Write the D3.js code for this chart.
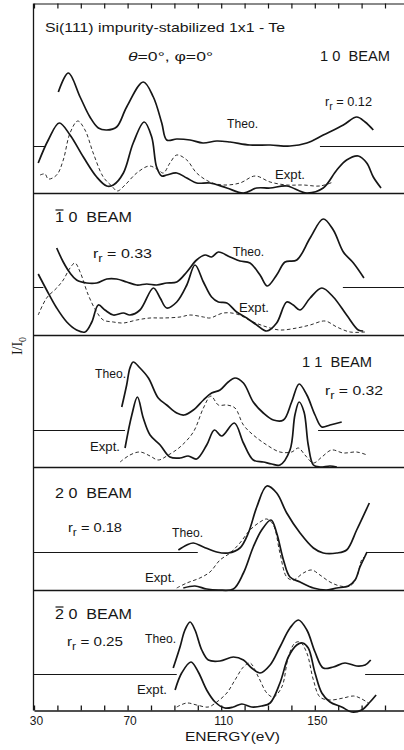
<!DOCTYPE html>
<html>
<head>
<meta charset="utf-8">
<script src="https://cdn.jsdelivr.net/npm/d3@7"></script>
<style>
  body { margin: 0; background: #fff; }
  svg { display: block; }
</style>
</head>
<body>
<div id="chart"></div>
<script>
/* LEED I-V curves, Si(111) 1x1-Te : theory (solid, upper), experiment (solid + dashed, lower) */

// energies (eV) and intensity (arb. units above each baseline)
const tickLabels = [30, 70, 110, 150]
const beamNames = ["1 0", "1 0", "1 1", "2 0", "2 0"]
const beamBar = [false, true, false, false, true]   // overbar on first index
const rFactors = ["0.12", "0.33", "0.32", "0.18", "0.25"]

// 1 0 beam
const theo10 = [[40.4,5.4],[44.7,7.3],[49.7,4.9],[53.9,2.9],[57.5,1.8],[61.1,1.6],[65.3,1.9],[69.6,3.9],[76.7,6.4],[81,4.9],[84.6,2.3],[86.7,0.6],[91,0.7],[96.7,0.6],[102.2,0.3],[108.1,0.5],[113.8,0.4],[122.3,0.1],[130.9,0.1],[139.4,0],[146.6,0.3],[153.6,1.1],[162.2,2.1],[167.9,2.9],[171.5,2.4],[175,1.6]]
const expt10 = [[31.8,3.0],[36.1,5.3],[40.8,7.0],[45.4,5.8],[51.1,3.6],[56.8,1.6],[61.1,0.7],[63.9,0.8],[68.2,2.0],[72.4,5.0],[77.1,7.1],[80.3,5.6],[82.4,2.6],[84.6,1.7],[86.7,1.8],[91,2.0],[95.3,1.5],[99.5,1.0],[105.2,1.0],[112.4,0.5],[119.5,0.0],[125.2,0.5],[130.9,0.5],[138,0.7],[146.6,0.0],[153.6,0.5],[159.4,2.3],[163.6,3.3],[168.6,3.7],[172.2,3.0],[175,1.6],[178.3,0.5]]
const dash10 = [[32.6,1.8],[34.7,1.9],[36.1,1.4],[39.7,1.8],[42.5,3.3],[45.4,6.0],[48.7,7.2],[51.8,6.3],[55.3,4.0],[59.6,1.6],[63.2,0.7],[65.6,0.2],[68.9,0.8],[73.9,2.0],[79.3,2.7],[83.1,2.3],[85.3,2.0],[88.1,3.0],[91,3.8],[95.3,3.3],[99.5,2.0],[105.2,1.1],[110.9,0.8],[118,1.0],[124.5,1.7],[130.9,1.1],[138,0.8],[145.1,0.8],[152.2,0.7],[157.9,1.1]]

// 1bar 0 beam
const theo1b0 = [[39.7,3.9],[42.5,2.5],[45.4,1.4],[48.2,0.7],[52.5,0.4],[56.8,0.4],[61.1,0.8],[65.3,0.8],[69.6,0.5],[73.9,0.2],[78.2,0.3],[82.4,0.2],[86.7,0.4],[91,0.5],[95.3,1.5],[99.5,2.7],[103.1,3.2],[105.9,3.0],[108.8,3.5],[113.8,3.0],[118,2.6],[122.3,2.4],[126.6,1.2],[129.7,0.1],[133.7,1.2],[137.3,2.5],[142.3,2.7],[148,4.9],[153.6,6.8],[157.9,5.7],[162.2,3.5],[166.5,2.4],[171,0.9]]
const expt1b0 = [[31.8,6.1],[35.4,4.5],[39.7,2.7],[44,1.3],[48.2,0.5],[51.8,0.3],[54.7,1.3],[57.5,3.0],[60.3,2.5],[63.9,2.0],[68.2,2.2],[71,2.0],[75.3,2.5],[81,4.7],[83.9,3.7],[86.7,2.7],[91,3.3],[95.3,5.0],[98.8,7.0],[102.4,5.3],[105.9,3.8],[108.8,3.3],[112.4,3.2],[116.6,2.3],[120.9,1.7],[125.2,1.0],[129.5,0.4],[133.7,1.2],[138,3.3],[140.8,3.0],[143.7,2.5],[148,3.7],[153,4.7],[157.9,3.8],[163.6,2.0],[168.6,0.5],[170.7,0.4]]
const dash1b0 = [[31.8,2.0],[35.4,3.7],[39.7,4.7],[42.5,5.5],[45.4,6.7],[47.5,7.2],[49.7,6.3],[53.2,4.0],[56.8,2.3],[59.6,1.5],[63.9,1.3],[68.2,1.2],[73.9,1.5],[79.6,1.7],[85.3,1.7],[92.4,1.8],[96.7,2.0],[102.4,1.8],[105.2,1.7],[110.9,2.2],[116.6,2.1],[123.7,1.3],[129.5,0.8],[135.1,0.5],[142.3,0.7],[148,1.0],[154.4,1.4],[159.4,0.8],[165.1,0.3],[171.5,0.3]]

// 1 1 beam
const theo11 = [[67.5,2.3],[69.6,4.5],[71,6.2],[72.4,6.8],[75.3,6.2],[78.9,5.2],[83.1,3.2],[86.7,2.5],[91,1.7],[94.1,1.5],[98.1,2.0],[102.4,3.0],[105.9,3.7],[109.5,4.0],[113,4.8],[115.9,5.2],[119.5,4.7],[123.7,2.8],[128,1.7],[132.3,1.0],[136.6,1.0],[140.1,2.8],[143.3,4.6],[146.6,3.5],[150.1,1.5],[153,0.3],[156.5,0.5],[161.5,0.8]]
const expt11 = [[68.9,1.9],[71.8,5.2],[74.2,7.0],[76.7,4.9],[79.6,3.2],[83.9,2.2],[88.1,1.0],[92.4,0.9],[95.9,1.1],[99.5,0.8],[103.8,2.2],[107.1,3.7],[110.2,3.1],[115.6,4.4],[119.5,2.4],[123.7,0.7],[128,0.5],[131.6,0.3],[135.1,0.2],[139.4,1.7],[141.5,5.2],[143.3,6.5],[145.4,5.5],[147.2,2.2],[149.4,0.2],[152.2,0],[156.5,0.1],[159.4,0]]
const dash11 = [[66.8,0.5],[71,1.2],[75.3,1.5],[79.6,1.1],[83.1,0.7],[87.4,1.2],[92.4,2.0],[98.1,3.5],[102.4,5.9],[105.6,7.1],[108.8,6.2],[112.4,6.2],[115.9,5.9],[119.5,4.2],[123.7,3.2],[129.5,2.2],[135.1,1.5],[140.1,1.5],[143,1.9],[145.8,1.2],[149.4,0.4],[153,1.0],[157.2,1.7],[162.2,1.4],[167.9,1.5],[172.3,1.2]]

// 2 0 beam
const theo20 = [[91.7,0.2],[95.3,0.7],[98.1,0.9],[102.4,0.5],[108.1,0],[113,-0.1],[118,0.4],[121.6,1.9],[125.2,4.5],[129.5,6.6],[133.7,5.9],[138,3.9],[143.7,1.9],[149.4,0.4],[153.6,-0.1],[159.4,-0.1],[163.6,0.2],[167.9,2.2],[173.3,4.9]]
const expt20 = [[93.8,0.2],[98.8,0.4],[103.8,0.1],[108.8,0],[115.2,0.1],[119.5,1.7],[123.7,4.3],[127.3,6.0],[131.3,7.0],[133.7,5.7],[136.6,3.0],[139.4,1.3],[143.7,0.8],[149.4,0.2],[155.1,0],[159.4,0.2],[164.3,0.4],[167.2,1.0],[169.3,2.3],[171.5,3.4],[172.3,3.8]]
const dash20 = [[91,0.2],[95.3,0.7],[100.9,1.2],[105.2,1.8],[109.5,3.0],[113.8,3.7],[118,4.7],[122.3,6.0],[126.6,6.8],[129.5,7.1],[132.3,6.5],[135.1,3.7],[138,1.3],[140.8,1.0],[145.1,1.7],[148.7,2.0],[152.2,1.5],[156.5,0.8],[160.8,0.4],[165.1,0.4],[167.9,1.3],[170,3.0],[171.5,3.4]]

// 2bar 0 beam
const theo2b0 = [[89.5,0.6],[92.4,2.7],[94.5,4.4],[96.7,5.2],[98.8,4.4],[101.7,2.4],[104.5,1.4],[109.5,1.3],[115.2,1.7],[119.5,1.4],[123,0.6],[126.6,0.1],[130.9,0.9],[135.1,2.7],[139.4,4.6],[143,5.4],[146.6,4.4],[150.1,2.2],[153.6,0.6],[157.9,0.7],[162.9,1.1],[167.9,0.8],[171.5,0.9],[173.9,1.4]]
const expt2b0 = [[90.3,2.0],[93.1,3.7],[97.1,4.8],[100.2,3.8],[103.8,2.0],[107.4,0.8],[111.6,0.2],[115.2,0.3],[118.8,0.6],[123,0.3],[127.3,0.4],[130.9,0.7],[135.1,2.7],[138.7,5.3],[142.3,6.5],[144.8,6.7],[147.2,6.2],[150.1,3.7],[153,1.7],[156.5,0.8],[161.5,0.3],[165.8,-0.2],[170,0],[173.6,0.8],[176.2,1.5]]
const dash2b0 = [[91,0.3],[95.3,0.7],[99.5,0.5],[104.5,0.3],[108.1,0.8],[112.4,1.7],[115.9,3.0],[119.5,4.3],[122.3,4.7],[125.9,3.3],[129.5,1.7],[132.3,1.3],[135.9,2.3],[138.7,5.3],[141.5,6.7],[143.7,6.8],[146.6,5.7],[149.4,3.0],[152.2,1.3],[156.5,1.0],[162.2,1.2],[166.5,1.4],[169.3,1.2],[172.9,0.7]]

// energy ranges where the theory baseline is drawn
const theoSpan = [
  [[30, 34.7], [152.2, 190]],
  [[30, 34], [162, 190]],
  [[30, 68.9], [151.4, 190]],
  [[30, 100], [172.3, 190]],
  [[30, 91], [171.5, 190]]
]

const width = 404
const height = 750
const ink = "#161616"
const sans = "'Liberation Sans', Arial, sans-serif"

// panel layout (pixels)
const exptBase = [193, 335, 467, 590, 710]
const theoBase = [146, 287, 430, 552, 674]
const beamPos = [[320, 61], [55, 222], [302, 367], [55, 498], [55, 619]]
const rPos = [[325, 106, 47], [93, 258, 59], [325, 395, 58], [68, 532, 54], [67, 646, 56]]
const theoPos = [[227, 128], [233, 256], [95, 378], [172, 537], [145, 643]]
const exptPos = [[275, 179], [239, 312], [90, 451], [145, 582], [137, 694]]

const panels = [
  { theo: theo10, expt: expt10, dash: dash10 },
  { theo: theo1b0, expt: expt1b0, dash: dash1b0 },
  { theo: theo11, expt: expt11, dash: dash11 },
  { theo: theo20, expt: expt20, dash: dash20 },
  { theo: theo2b0, expt: expt2b0, dash: dash2b0 }
]

const x = d3.scaleLinear([30, 190], [34, 34 + 2.34 * 160])

const svg = d3.select("#chart")
  .append("svg")
  .attr("width", width)
  .attr("height", height)
  .attr("viewBox", [0, 0, width, height])
  .style("background", "#fff")

// frame: left axis + top axis
svg.append("line")
  .attr("x1", 33.5).attr("x2", 33.5).attr("y1", 3.5).attr("y2", exptBase[4] + 0.5)
  .attr("stroke", ink).attr("stroke-width", 1.3)

const topAxis = d3.axisTop(x).tickValues(d3.range(30, 191, 10)).tickSize(-5).tickSizeOuter(0).tickFormat("")
svg.append("g")
  .attr("transform", "translate(0,3.5)")
  .call(topAxis)
  .call(g => g.selectAll("path, line").attr("stroke", ink).attr("stroke-width", 1.2))

// bottom axis
const bottomAxis = d3.axisBottom(x)
  .tickValues(d3.range(30, 191, 10))
  .tickSizeInner(-5)
  .tickSizeOuter(0)
  .tickPadding(6)
  .tickFormat(d => tickLabels.includes(d) ? d : "")
svg.append("g")
  .attr("transform", `translate(0,${exptBase[4] + 0.5})`)
  .call(bottomAxis)
  .call(g => g.selectAll("path, line").attr("stroke", ink).attr("stroke-width", 1.3))
  .call(g => g.selectAll("text").attr("fill", ink).attr("dx", 2).style("font", `12px ${sans}`))

svg.append("text")
  .attr("x", 185).attr("y", 741)
  .attr("textLength", 95).attr("lengthAdjust", "spacingAndGlyphs")
  .attr("fill", ink).style("font", `12px ${sans}`)
  .text("ENERGY(eV)")

// y label
const yl = svg.append("text")
  .attr("transform", "translate(22,346) rotate(-90)")
  .attr("text-anchor", "middle")
  .attr("fill", ink)
  .style("font", "14px 'Liberation Serif', 'DejaVu Serif', serif")
yl.append("tspan").text("I/I")
yl.append("tspan").attr("dy", 4).style("font-size", "10px").text("0")

// title
svg.append("text")
  .attr("x", 45).attr("y", 32)
  .attr("textLength", 240).attr("lengthAdjust", "spacingAndGlyphs")
  .attr("fill", ink).style("font", `13px ${sans}`)
  .text("Si(111) impurity-stabilized 1x1 - Te")

const ang = svg.append("text")
  .attr("x", 128).attr("y", 61)
  .attr("textLength", 85).attr("lengthAdjust", "spacingAndGlyphs")
  .attr("fill", ink).style("font", `13px ${sans}`)
ang.append("tspan").style("font-style", "italic").text("\u03b8")
ang.append("tspan").text("=0\u00b0,  \u03c6=0\u00b0")

const line = y => d3.line()
  .x(d => x(d[0]))
  .y(d => y(d[1]))
  .curve(d3.curveCatmullRom.alpha(0.5))

panels.forEach((p, i) => {
  const yT = d3.scaleLinear([0, 10], [theoBase[i], theoBase[i] - 100])
  const yE = d3.scaleLinear([0, 10], [exptBase[i], exptBase[i] - 100])
  const g = svg.append("g")

  // experiment baseline / panel separator (the last one is the energy axis)
  if (i < 4) {
    g.append("line")
      .attr("x1", 33.5).attr("x2", width)
      .attr("y1", exptBase[i] + 0.5).attr("y2", exptBase[i] + 0.5)
      .attr("stroke", ink).attr("stroke-width", 1.3)
  }

  // theory baseline pieces
  theoSpan[i].forEach(s => {
    g.append("line")
      .attr("x1", x(s[0])).attr("x2", Math.min(x(s[1]), width))
      .attr("y1", yT(0) + 0.5).attr("y2", yT(0) + 0.5)
      .attr("stroke", ink).attr("stroke-width", 1)
  })

  g.append("path").datum(p.dash)
    .attr("d", line(yE))
    .attr("fill", "none").attr("stroke", ink)
    .attr("stroke-width", 0.9).attr("stroke-dasharray", "3.5,2.5")

  g.append("path").datum(p.expt)
    .attr("d", line(yE))
    .attr("fill", "none").attr("stroke", ink).attr("stroke-width", 1.7)

  g.append("path").datum(p.theo)
    .attr("d", line(yT))
    .attr("fill", "none").attr("stroke", ink).attr("stroke-width", 1.7)

  // labels
  const bt = g.append("text")
    .attr("x", beamPos[i][0]).attr("y", beamPos[i][1])
    .attr("textLength", i === 0 || i === 2 ? 70 : 77).attr("lengthAdjust", "spacingAndGlyphs")
    .attr("fill", ink).style("font", `14px ${sans}`)
    .attr("xml:space", "preserve")
    .text(beamNames[i] + "  BEAM")
  if (beamBar[i]) {
    const c = bt.node().getExtentOfChar(0)
    g.append("line")
      .attr("x1", c.x + 0.5).attr("x2", c.x + c.width - 0.5)
      .attr("y1", beamPos[i][1] - 12).attr("y2", beamPos[i][1] - 12)
      .attr("stroke", ink).attr("stroke-width", 1.2)
  }

  const r = g.append("text")
    .attr("x", rPos[i][0]).attr("y", rPos[i][1])
    .attr("textLength", rPos[i][2]).attr("lengthAdjust", "spacingAndGlyphs")
    .attr("fill", ink).style("font", `13.5px ${sans}`)
  r.append("tspan").text("r")
  r.append("tspan").attr("dy", 4).style("font-size", "11px").text("r")
  r.append("tspan").attr("dy", -4).text(" = " + rFactors[i])

  g.append("text")
    .attr("x", theoPos[i][0]).attr("y", theoPos[i][1])
    .attr("textLength", 31).attr("lengthAdjust", "spacingAndGlyphs")
    .attr("fill", ink).style("font", `12.5px ${sans}`)
    .text("Theo.")

  g.append("text")
    .attr("x", exptPos[i][0]).attr("y", exptPos[i][1])
    .attr("textLength", 30).attr("lengthAdjust", "spacingAndGlyphs")
    .attr("fill", ink).style("font", `12.5px ${sans}`)
    .text("Expt.")
})
</script>
</body>
</html>
